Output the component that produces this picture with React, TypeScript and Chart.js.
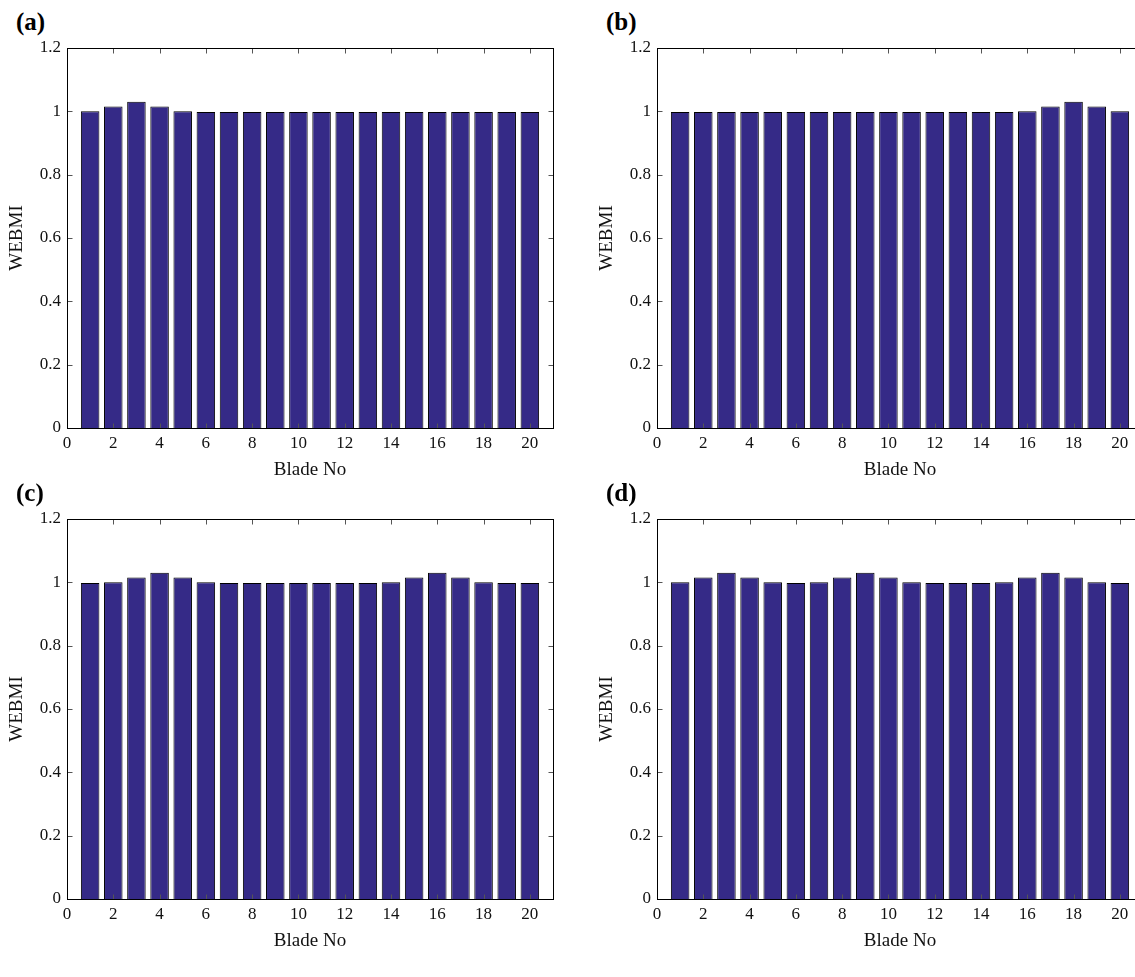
import React, { useEffect, useRef } from 'react';
import { Chart, registerables } from 'chart.js';

Chart.register(...registerables);

// ---- data ----
const blades = [1, 2, 3, 4, 5, 6, 7, 8, 9, 10, 11, 12, 13, 14, 15, 16, 17, 18, 19, 20];

const webmiA = [1.0, 1.015, 1.03, 1.015, 1.0, 0.998, 0.998, 0.998, 0.998, 0.998, 0.998, 0.998, 0.998, 0.998, 0.998, 0.998, 0.998, 0.998, 0.998, 0.998];
const webmiB = [0.998, 0.998, 0.998, 0.998, 0.998, 0.998, 0.998, 0.998, 0.998, 0.998, 0.998, 0.998, 0.998, 0.998, 0.998, 1.0, 1.015, 1.03, 1.015, 1.0];
const webmiC = [0.998, 1.0, 1.015, 1.03, 1.015, 1.0, 0.998, 0.998, 0.998, 0.998, 0.998, 0.998, 0.998, 1.0, 1.015, 1.03, 1.015, 1.0, 0.998, 0.998];
const webmiD = [1.0, 1.015, 1.03, 1.015, 1.0, 0.998, 1.0, 1.015, 1.03, 1.015, 1.0, 0.998, 0.998, 0.998, 1.0, 1.015, 1.03, 1.015, 1.0, 0.998];

const xTicks = [0, 2, 4, 6, 8, 10, 12, 14, 16, 18, 20];
const yTicks = [0, 0.2, 0.4, 0.6, 0.8, 1, 1.2];

const panelLabels = ['(a)', '(b)', '(c)', '(d)'];
const xTitle = 'Blade No';
const yTitle = 'WEBMI';

// ---- styles ----
const BAR_COLOR = '#352a87';
const TEXT_COLOR = '#111111';
const FONT_FAMILY = '"Liberation Serif", "Times New Roman", serif';
const CANVAS_W = 570;
const CANVAS_H = 441;

const boxPlugin = {
  id: 'matlabBox',
  afterDatasetsDraw(chart: any) {
    const { ctx, chartArea: a, scales } = chart;
    const x = scales.x;
    const y = scales.y;
    const L = Math.round(a.left) + 0.5;
    const R = Math.round(a.right) + 0.5;
    const T = Math.round(a.top) + 0.5;
    const B = Math.round(a.bottom) + 0.5;
    const tl = 5;
    ctx.save();
    ctx.lineWidth = 1;
    ctx.strokeStyle = '#555555';
    ctx.beginPath();
    for (const v of xTicks) {
      const px = Math.round(x.getPixelForValue(v)) + 0.5;
      ctx.moveTo(px, B);
      ctx.lineTo(px, B - tl);
      ctx.moveTo(px, T);
      ctx.lineTo(px, T + tl);
    }
    for (const v of yTicks) {
      const py = Math.round(y.getPixelForValue(v)) + 0.5;
      ctx.moveTo(L, py);
      ctx.lineTo(L + tl, py);
      ctx.moveTo(R, py);
      ctx.lineTo(R - tl, py);
    }
    ctx.stroke();
    ctx.strokeStyle = '#000000';
    ctx.strokeRect(L, T, R - L, B - T);
    ctx.restore();
  },
};

const zeroPad = (s: any) => {
  s.paddingTop = 0;
  s.paddingBottom = 0;
  s.paddingLeft = 0;
  s.paddingRight = 0;
};

function Panel({ values, label, left, top }: { values: number[]; label: string; left: number; top: number }) {
  const ref = useRef<HTMLCanvasElement>(null);
  useEffect(() => {
    const chart = new Chart(ref.current as HTMLCanvasElement, {
      type: 'bar',
      data: {
        datasets: [
          {
            data: blades.map((b, i) => ({ x: b, y: values[i] })) as any,
            backgroundColor: BAR_COLOR,
            borderColor: '#000000',
            borderWidth: 1,
            barPercentage: 0.8,
            categoryPercentage: 1,
          },
        ],
      },
      options: {
        responsive: false,
        animation: false,
        devicePixelRatio: 1,
        layout: { padding: { top: 8, right: 17, left: 0, bottom: 0 } },
        plugins: { legend: { display: false }, tooltip: { enabled: false }, title: { display: false } },
        scales: {
          x: {
            type: 'linear',
            min: 0,
            max: 21,
            offset: false,
            grid: { display: false, drawTicks: false },
            border: { display: false },
            afterBuildTicks: (s: any) => {
              s.ticks = xTicks.map((v) => ({ value: v }));
            },
            afterFit: (s: any) => {
              s.height = 53;
              zeroPad(s);
            },
            ticks: {
              autoSkip: false,
              maxRotation: 0,
              padding: 5,
              color: TEXT_COLOR,
              font: { family: FONT_FAMILY, size: 17 },
              callback: (v: any) => String(Number(v)),
            },
            title: {
              display: true,
              text: xTitle,
              color: TEXT_COLOR,
              font: { family: FONT_FAMILY, size: 19 },
              padding: { top: 0, bottom: 0 },
            },
          },
          y: {
            type: 'linear',
            min: 0,
            max: 1.2,
            grid: { display: false, drawTicks: false },
            border: { display: false },
            afterBuildTicks: (s: any) => {
              s.ticks = yTicks.map((v) => ({ value: v }));
            },
            afterFit: (s: any) => {
              s.width = 67;
              zeroPad(s);
            },
            ticks: {
              padding: 6,
              color: TEXT_COLOR,
              font: { family: FONT_FAMILY, size: 17 },
              callback: (v: any) => String(Number(v)),
            },
            title: {
              display: true,
              text: yTitle,
              color: TEXT_COLOR,
              font: { family: FONT_FAMILY, size: 19 },
              padding: { top: 6, bottom: 0 },
            },
          },
        },
      } as any,
      plugins: [boxPlugin],
    });
    return () => chart.destroy();
  }, [values]);

  return (
    <>
      <div
        style={{
          position: 'absolute',
          left: left + 16,
          top: top - 31,
          fontFamily: FONT_FAMILY,
          fontWeight: 'bold',
          fontSize: 25,
          lineHeight: '25px',
          color: '#000',
        }}
      >
        {label}
      </div>
      <canvas
        ref={ref}
        width={CANVAS_W}
        height={CANVAS_H}
        style={{ position: 'absolute', left, top, width: CANVAS_W, height: CANVAS_H }}
      />
    </>
  );
}

export default function App() {
  return (
    <div
      style={{
        position: 'absolute',
        left: 0,
        top: 0,
        width: 1135,
        height: 977,
        overflow: 'hidden',
        background: '#ffffff',
      }}
    >
      <Panel values={webmiA} label={panelLabels[0]} left={0} top={40} />
      <Panel values={webmiB} label={panelLabels[1]} left={590} top={40} />
      <Panel values={webmiC} label={panelLabels[2]} left={0} top={511} />
      <Panel values={webmiD} label={panelLabels[3]} left={590} top={511} />
    </div>
  );
}
